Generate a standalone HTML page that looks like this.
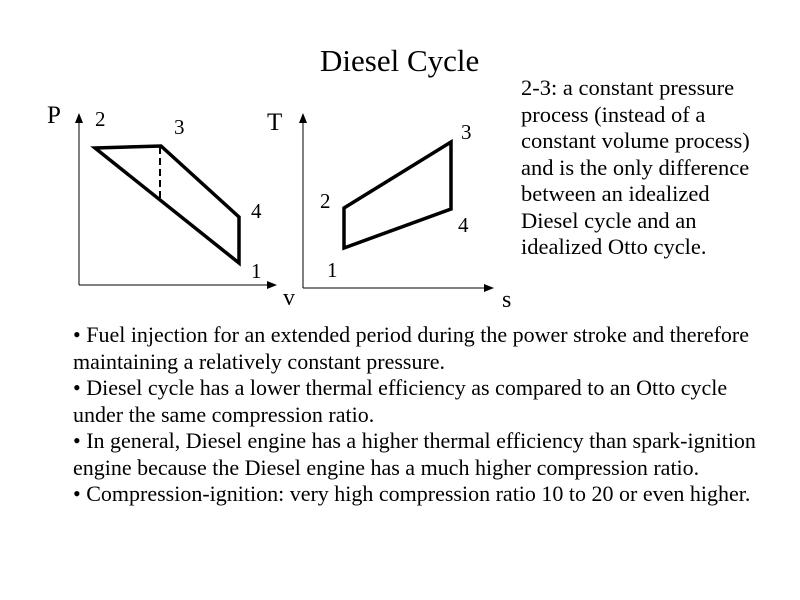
<!DOCTYPE html>
<html><head><style>
body{margin:0;width:800px;height:600px;background:#fff;overflow:hidden;font-family:"Liberation Serif",serif;color:#000}
.t{position:absolute;white-space:nowrap}
</style></head><body>
<svg width="800" height="600" style="position:absolute;left:0;top:0">
<defs><marker id="a" markerWidth="10" markerHeight="8" refX="9" refY="4" orient="auto" markerUnits="userSpaceOnUse"><path d="M0,0L10,4L0,8z" fill="#000"/></marker></defs>
<g stroke="#000" fill="none">
<path d="M79,285V114" stroke-width="1" marker-end="url(#a)"/>
<path d="M79,285H276" stroke-width="1" marker-end="url(#a)"/>
<path d="M303,288V114" stroke-width="1" marker-end="url(#a)"/>
<path d="M303,288H493" stroke-width="1" marker-end="url(#a)"/>
<path d="M95,148L161,146L239,217V263Z" stroke-width="3.5" stroke-linejoin="miter"/>
<path d="M160,147V200" stroke-width="2" stroke-dasharray="7,4"/>
<path d="M344,248V208L451,142V209Z" stroke-width="3.5"/>
</g>
<g font-family="Liberation Serif,serif" font-size="21">
<text x="95" y="126">2</text><text x="174" y="134">3</text><text x="251" y="218">4</text><text x="251" y="278">1</text>
<text x="320" y="208">2</text><text x="461" y="139">3</text><text x="458" y="232">4</text><text x="327" y="277">1</text>
<text x="47" y="123" font-size="25">P</text><text x="267" y="130" font-size="25">T</text>
<text x="283" y="305" font-size="24">v</text><text x="502" y="307" font-size="24">s</text>
</g>
</svg>
<div class="t" style="left:320px;top:43px;font-size:31px">Diesel Cycle</div>
<div class="t" style="left:521px;top:75px;font-size:22.5px;line-height:26.5px">2-3: a constant pressure<br>process (instead of a<br>constant volume process)<br>and is the only difference<br>between an idealized<br>Diesel cycle and an<br>idealized Otto cycle.</div>
<div class="t" style="left:73px;top:322px;font-size:22px;line-height:26.5px">• Fuel injection for an extended period during the power stroke and therefore<br>maintaining a relatively constant pressure.<br>• Diesel cycle has a lower thermal efficiency as compared to an Otto cycle<br>under the same compression ratio.<br>• In general, Diesel engine has a higher thermal efficiency than spark-ignition<br>engine because the Diesel engine has a much higher compression ratio.<br>• Compression-ignition: very high compression ratio 10 to 20 or even higher.</div>
</body></html>
